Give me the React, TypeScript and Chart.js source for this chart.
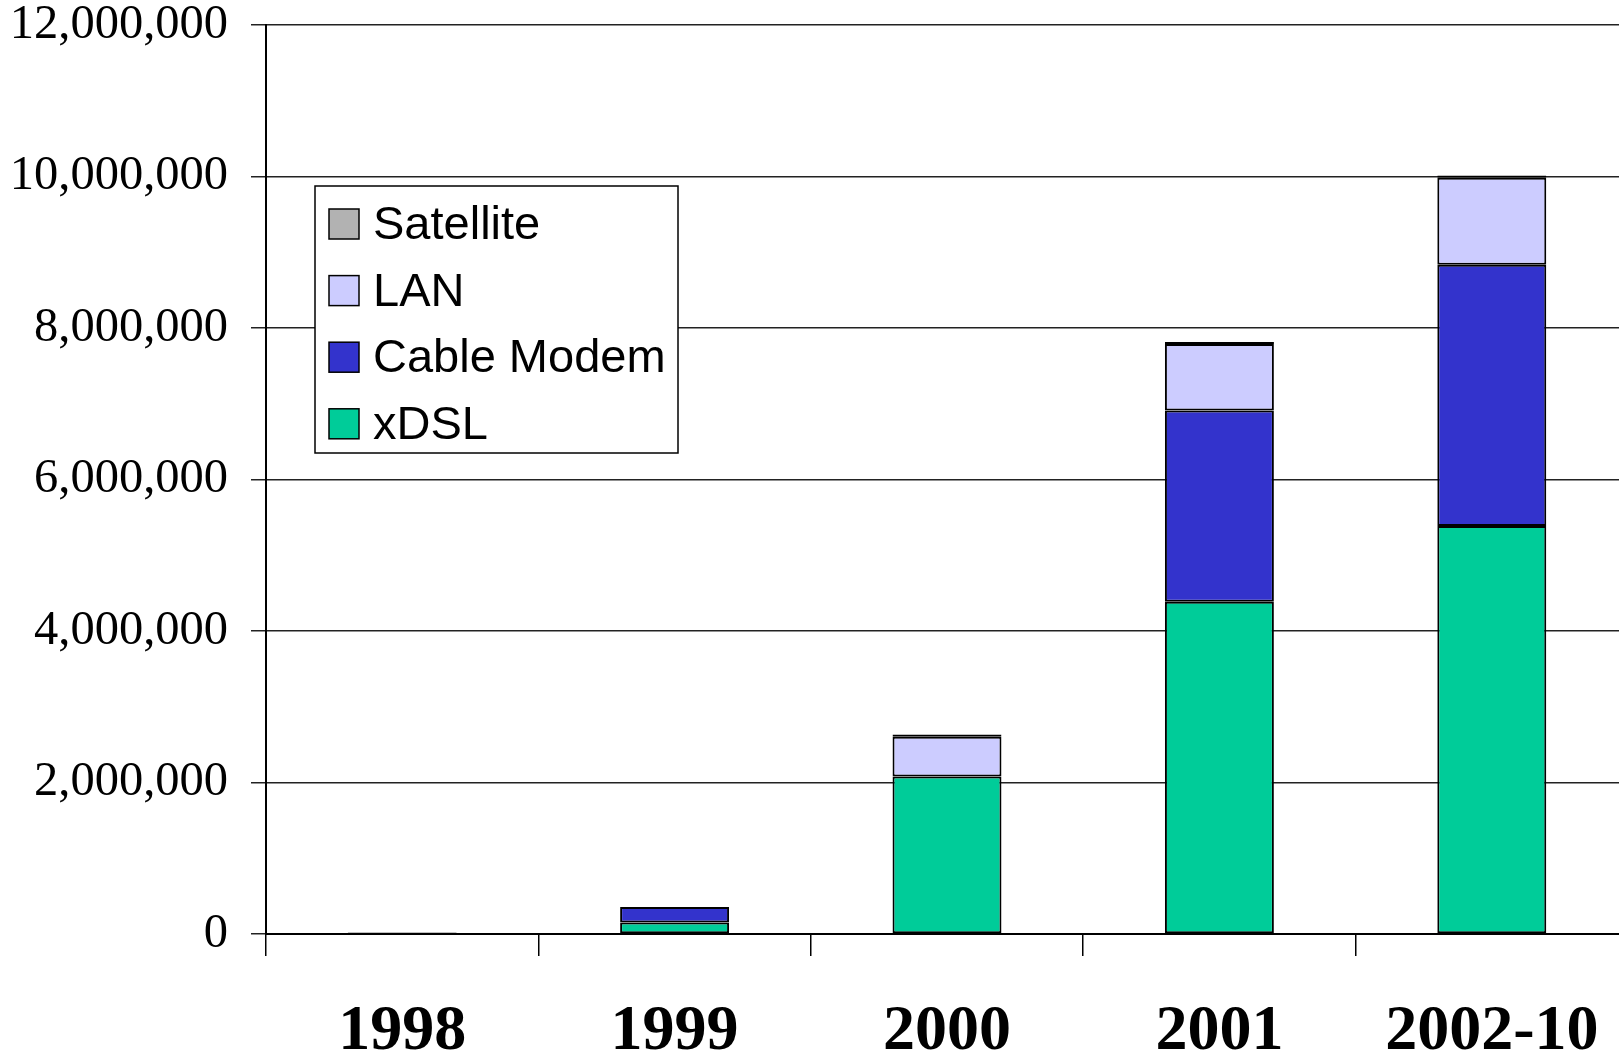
import React, { useEffect, useRef } from "react";
import { Chart, registerables } from "chart.js";

Chart.register(...registerables);

const categories = ["1998", "1999", "2000", "2001", "2002-10"];
const xdsl = [0, 153000, 2080000, 4385000, 5385000];
const cableModem = [20000, 205000, 0, 2525000, 3450000];
const lan = [0, 0, 525000, 880000, 1150000];
const satellite = [0, 0, 30000, 25000, 27000];
const yTicks = [0, 2000000, 4000000, 6000000, 8000000, 10000000, 12000000];

const COLORS = {
  xdsl: "#00CC99",
  cable: "#3333CC",
  lan: "#CCCCFF",
  sat: "#B2B2B2",
};

const legendPlugin = {
  id: "boxLegend",
  afterDatasetsDraw(chart: any) {
    const ctx = chart.ctx;
    const items = [
      { label: "Satellite", color: COLORS.sat },
      { label: "LAN", color: COLORS.lan },
      { label: "Cable Modem", color: COLORS.cable },
      { label: "xDSL", color: COLORS.xdsl },
    ];
    const x0 = 315, y0 = 186, w = 363, h = 267;
    ctx.save();
    ctx.fillStyle = "#ffffff";
    ctx.fillRect(x0, y0, w, h);
    ctx.strokeStyle = "#000000";
    ctx.lineWidth = 1.5;
    ctx.strokeRect(x0, y0, w, h);
    ctx.font = "47px 'Liberation Sans', Arial, sans-serif";
    ctx.textBaseline = "middle";
    ctx.textAlign = "left";
    items.forEach((it, i) => {
      const cy = 224 + i * 66.6;
      ctx.fillStyle = it.color;
      ctx.fillRect(329, cy - 15, 30, 30);
      ctx.strokeStyle = "#000";
      ctx.lineWidth = 1.5;
      ctx.strokeRect(329, cy - 15, 30, 30);
      ctx.fillStyle = "#000";
      ctx.fillText(it.label, 373, cy + 2);
    });
    ctx.restore();
  },
};

export default function App() {
  const ref = useRef<HTMLCanvasElement | null>(null);
  useEffect(() => {
    if (!ref.current) return;
    const ds = (label: string, data: number[], color: string) => ({
      label,
      data,
      backgroundColor: color,
      borderColor: "#000000",
      borderWidth: 2,
      borderSkipped: false,
      categoryPercentage: 1,
      barPercentage: 0.4,
    });
    const chart = new Chart(ref.current, {
      type: "bar",
      data: {
        labels: categories,
        datasets: [
          ds("xDSL", xdsl, COLORS.xdsl),
          ds("Cable Modem", cableModem, COLORS.cable),
          ds("LAN", lan, COLORS.lan),
          ds("Satellite", satellite, COLORS.sat),
        ],
      },
      options: {
        responsive: false,
        animation: false,
        devicePixelRatio: 1,
        layout: { padding: { top: 25, left: 0, right: 0, bottom: 0 } },
        plugins: { legend: { display: false }, tooltip: { enabled: false } },
        scales: {
          x: {
            stacked: true,
            grid: {
              offset: true,
              drawOnChartArea: false,
              drawTicks: true,
              tickLength: 22,
              color: "#000",
              lineWidth: 1.5,
            },
            border: { display: true, color: "#000", width: 2 },
            ticks: {
              color: "#000",
              padding: 38,
              maxRotation: 0,
              font: {
                family: "'Liberation Serif', 'Times New Roman', serif",
                size: 64,
                weight: "bold",
              },
            },
            afterFit: (scale: any) => {
              scale.height = 123;
              scale.paddingLeft = 0;
              scale.paddingRight = 0;
            },
          },
          y: {
            stacked: true,
            min: 0,
            max: 12000000,
            afterBuildTicks: (scale: any) => {
              scale.ticks = yTicks.map((v) => ({ value: v }));
            },
            grid: {
              color: "#222",
              lineWidth: 1.5,
              drawTicks: true,
              tickLength: 15,
            },
            border: { display: true, color: "#000", width: 2 },
            ticks: {
              color: "#000",
              padding: 23,
              font: {
                family: "'Liberation Serif', 'Times New Roman', serif",
                size: 48.5,
                lineHeight: 1,
              },
              callback: (v: any) => Number(v).toLocaleString("en-US"),
            },
            afterFit: (scale: any) => {
              scale.width = 266;
              scale.paddingTop = 0;
              scale.paddingBottom = 0;
            },
          },
        },
      },
      plugins: [legendPlugin],
    } as any);
    return () => chart.destroy();
  }, []);
  return (
    <div
      style={{
        position: "fixed",
        left: 0,
        top: 0,
        width: 1619,
        height: 1057,
        overflow: "hidden",
        background: "#fff",
      }}
    >
      <canvas ref={ref} width={1628} height={1057} style={{ width: 1628, height: 1057, display: "block" }} />
    </div>
  );
}
